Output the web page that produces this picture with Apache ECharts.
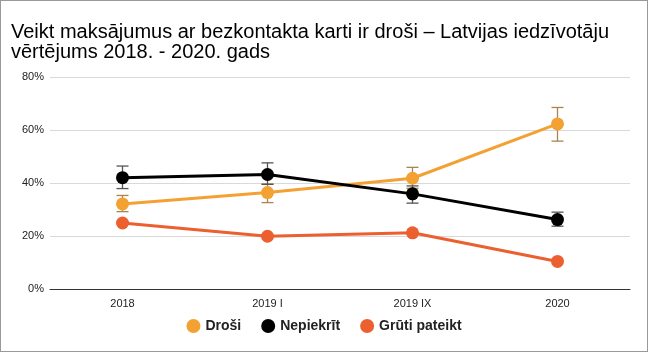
<!DOCTYPE html>
<html><head><meta charset="utf-8">
<script src="https://cdn.jsdelivr.net/npm/echarts@6/dist/echarts.min.js"></script>
<style>html,body{margin:0;padding:0;background:#fff}#c{width:648px;height:352px;box-sizing:border-box;border:1px solid #999}</style>
</head><body><div id="c"></div>
<script>
const categories = ['2018', '2019 I', '2019 IX', '2020'];
const drosi = [32.1, 36.4, 41.8, 62.3];
const drosiLow = [29.2, 32.6, 38.0, 55.8];
const drosiHigh = [35.3, 39.6, 45.9, 68.5];
const nepiekrit = [42.0, 43.2, 35.9, 26.2];
const nepiekritLow = [37.9, 39.5, 32.4, 23.7];
const nepiekritHigh = [46.4, 47.6, 38.9, 29.0];
const gruti = [24.9, 19.9, 21.2, 10.4];
const seriesNames = ['Droši', 'Nepiekrīt', 'Grūti pateikt'];
const yTicks = [0, 20, 40, 60, 80];

const chart = echarts.init(document.getElementById('c'));
function errSeries(low, high, color) {
  return {
    type: 'custom', silent: true, z: 1,
    data: categories.map((c, i) => [i, low[i], high[i]]),
    renderItem: function (params, api) {
      const x = api.value(0);
      const lo = api.coord([x, api.value(1)]);
      const hi = api.coord([x, api.value(2)]);
      const w = 6;
      const st = { stroke: color, lineWidth: 1.3 };
      return { type: 'group', children: [
        { type: 'line', shape: { x1: lo[0], y1: lo[1], x2: hi[0], y2: hi[1] }, style: st },
        { type: 'line', shape: { x1: lo[0] - w, y1: lo[1], x2: lo[0] + w, y2: lo[1] }, style: st },
        { type: 'line', shape: { x1: hi[0] - w, y1: hi[1], x2: hi[0] + w, y2: hi[1] }, style: st }
      ]};
    }
  };
}
const colors = ['#f4a133', '#000000', '#ec5f2f'];
chart.setOption({
  animation: false,
  title: {
    text: 'Veikt maksājumus ar bezkontakta karti ir droši – Latvijas iedzīvotāju\nvērtējums 2018. - 2020. gads',
    left: 5, top: 16,
    textStyle: { fontFamily: 'Liberation Sans, Arial', fontSize: 20, fontWeight: 'normal', color: '#000', lineHeight: 20 }
  },
  legend: {
    data: seriesNames.map(n => ({ name: n, icon: 'circle' })),
    bottom: 13, left: 'center', itemWidth: 14, itemHeight: 14, itemGap: 20,
    textStyle: { fontFamily: 'Liberation Sans, Arial', fontSize: 14, fontWeight: 'bold', color: '#222' }
  },
  grid: { left: 49, right: 17, top: 76, bottom: 62, containLabel: false },
  xAxis: {
    type: 'category', data: categories, boundaryGap: true,
    axisLine: { lineStyle: { color: '#333' } }, axisTick: { show: false },
    axisLabel: { fontFamily: 'Liberation Sans, Arial', fontSize: 11, color: '#222', margin: 9 }
  },
  yAxis: {
    type: 'value', min: 0, max: 80, interval: 20,
    axisLine: { show: false }, axisTick: { show: false },
    splitLine: { lineStyle: { color: '#d9d9d9' } },
    axisLabel: { formatter: v => yTicks.includes(v) ? v + '%' : '', fontFamily: 'Liberation Sans, Arial', fontSize: 11, color: '#222', margin: 6 }
  },
  series: [
    errSeries(drosiLow, drosiHigh, '#a88450'),
    errSeries(nepiekritLow, nepiekritHigh, '#555555'),
    { name: seriesNames[0], type: 'line', data: drosi, color: colors[0], symbol: 'circle', symbolSize: 13, lineStyle: { width: 3 }, z: 3 },
    { name: seriesNames[1], type: 'line', data: nepiekrit, color: colors[1], symbol: 'circle', symbolSize: 13, lineStyle: { width: 3 }, z: 3 },
    { name: seriesNames[2], type: 'line', data: gruti, color: colors[2], symbol: 'circle', symbolSize: 13, lineStyle: { width: 3 }, z: 3 }
  ]
});
</script></body></html>
